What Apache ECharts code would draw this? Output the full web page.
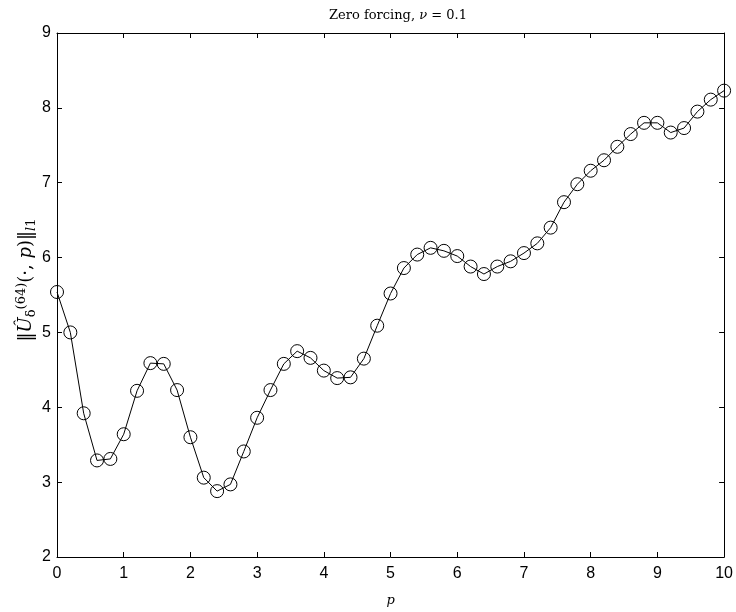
<!DOCTYPE html>
<html>
<head>
<meta charset="utf-8">
<script src="https://cdn.jsdelivr.net/npm/echarts@6/dist/echarts.min.js"></script>
<style>
html,body{margin:0;padding:0;background:#fff;}
#chart{width:736px;height:612px;}
</style>
</head>
<body>
<div id="chart"></div>
<script>
var pValues = [0,0.2,0.4,0.6,0.8,1.0,1.2,1.4,1.6,1.8,2.0,2.2,2.4,2.6,2.8,3.0,3.2,3.4,3.6,3.8,4.0,4.2,4.4,4.6,4.8,5.0,5.2,5.4,5.6,5.8,6.0,6.2,6.4,6.6,6.8,7.0,7.2,7.4,7.6,7.8,8.0,8.2,8.4,8.6,8.8,9.0,9.2,9.4,9.6,9.8,10.0];
var normValues = [5.54,5.0,3.92,3.29,3.31,3.64,4.22,4.59,4.58,4.23,3.60,3.06,2.88,2.97,3.41,3.86,4.23,4.58,4.75,4.66,4.49,4.39,4.40,4.65,5.09,5.52,5.86,6.04,6.13,6.09,6.02,5.88,5.78,5.88,5.95,6.06,6.19,6.40,6.74,6.98,7.16,7.30,7.48,7.65,7.80,7.80,7.67,7.73,7.95,8.11,8.23];
var xTicks = [0,1,2,3,4,5,6,7,8,9,10];
var yTicks = [2,3,4,5,6,7,8,9];

var chart = echarts.init(document.getElementById('chart'));
var data = pValues.map(function(p,i){return [p, normValues[i]];});
var lineSt = {color:'#000', width:1};
var serif = '"DejaVu Serif", "Liberation Serif", serif';
var sans = '"Liberation Sans", Arial, sans-serif';
var xMin = xTicks[0], xMax = xTicks[xTicks.length-1];
var yMin = yTicks[0], yMax = yTicks[yTicks.length-1];
var tick = {show:true, inside:true, length:5, lineStyle:lineSt};
chart.setOption({
  animation:false,
  backgroundColor:'#fff',
  title:{
    text:'{n|Zero forcing, }{i|ν}{n| = 0.1}',
    left:393, top:4, textAlign:'center',
    textStyle:{
      fontWeight:'normal',
      rich:{
        n:{fontFamily:serif, fontSize:13, fontWeight:'normal', color:'#000'},
        i:{fontFamily:serif, fontSize:13, fontWeight:'normal', fontStyle:'italic', color:'#000'}
      }
    }
  },
  grid:{left:57, right:9, top:33, bottom:54, containLabel:false},
  xAxis:[{
    type:'value', min:xMin, max:xMax, interval:1, position:'bottom',
    axisLine:{show:true, onZero:false, lineStyle:lineSt},
    axisTick:tick,
    axisLabel:{color:'#000', fontSize:16, fontFamily:sans, margin:9},
    splitLine:{show:false},
    name:'p', nameLocation:'middle', nameGap:37,
    nameTextStyle:{fontFamily:serif, fontStyle:'italic', fontSize:13, color:'#000'}
  },{
    type:'value', position:'top', min:xMin, max:xMax, interval:1,
    axisLine:{show:true, onZero:false, lineStyle:lineSt},
    axisTick:tick,
    axisLabel:{show:false}, splitLine:{show:false}
  }],
  yAxis:[{
    type:'value', min:yMin, max:yMax, interval:1, position:'left',
    axisLine:{show:true, onZero:false, lineStyle:lineSt},
    axisTick:tick,
    axisLabel:{color:'#000', fontSize:16, fontFamily:sans, margin:6},
    splitLine:{show:false},
    name:'{n|‖}{i|Û}{sub|δ}{sup|(64)}{n|(·, }{i|p}{n|)‖}{subi|l}{sub|1}',
    nameLocation:'middle', nameGap:19, nameRotate:90, nameMoveOverlap:false,
    nameTextStyle:{
      padding:[0,0,0,30],
      rich:{
        n:{fontFamily:serif, fontSize:18, color:'#000'},
        i:{fontFamily:serif, fontSize:18, fontStyle:'italic', color:'#000'},
        sup:{fontFamily:serif, fontSize:13, color:'#000', verticalAlign:'top', padding:[0,0,10,0]},
        sub:{fontFamily:serif, fontSize:13, color:'#000', verticalAlign:'bottom', padding:[10,0,0,0]},
        subi:{fontFamily:serif, fontSize:13, fontStyle:'italic', color:'#000', verticalAlign:'bottom', padding:[10,0,0,0]}
      }
    }
  },{
    type:'value', position:'right', min:yMin, max:yMax, interval:1,
    axisLine:{show:true, onZero:false, lineStyle:lineSt},
    axisTick:tick,
    axisLabel:{show:false}, splitLine:{show:false}
  }],
  series:[{
    type:'line', data:data, xAxisIndex:0, yAxisIndex:0,
    symbol:'circle', symbolSize:13, showAllSymbol:true,
    lineStyle:{color:'#000', width:1},
    itemStyle:{color:'rgba(0,0,0,0)', borderColor:'#000', borderWidth:1},
    emphasis:{disabled:true}
  }]
});
</script>
</body>
</html>
